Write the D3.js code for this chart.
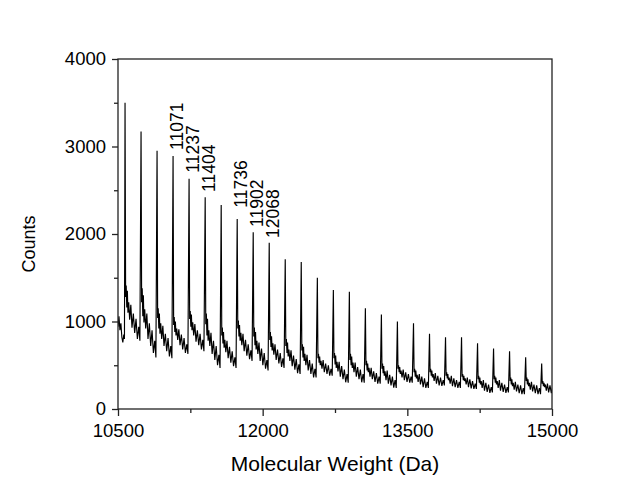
<!DOCTYPE html>
<html>
<head>
<meta charset="utf-8">
<script src="https://cdn.jsdelivr.net/npm/d3@7"></script>
<style>
  body { margin: 0; background: #fff; }
  svg { display: block; font-family: "Liberation Sans", Arial, sans-serif; }
</style>
</head>
<body>
<svg id="chart" width="628" height="481"></svg>
<script>
// axis ticks
const xTicks = [10500, 12000, 13500, 15000]
const xMinor = [11250, 12750, 14250]
const yTicks = [0, 1000, 2000, 3000, 4000]
const yMinor = [500, 1500, 2500, 3500]

// main peak series (Da), spacing ~166
const peakMass = [10573, 10739, 10905, 11071, 11237, 11404, 11570, 11736, 11902, 12068,
  12234, 12400, 12567, 12733, 12899, 13065, 13231, 13397, 13564, 13730,
  13896, 14062, 14228, 14394, 14560, 14727, 14893]

// offsets (Da) from each main peak where the trace is sampled
const periodOffsets = [0, 6, 12, 18, 24, 30, 38, 48, 60, 72, 86, 100, 114, 128, 142, 154]

// counts at those offsets, one row per peak (peak, adducts, noisy decaying baseline)
const periodCounts = [
  [3500, 1280, 1410, 1160, 1350, 1100, 1220, 1020, 1190, 930, 1090, 870, 1030, 800, 940, 780],
  [3170, 1220, 1380, 1060, 1300, 990, 1140, 920, 1090, 800, 980, 720, 900, 640, 780, 590],
  [2950, 1040, 1150, 920, 1090, 860, 980, 800, 950, 720, 860, 660, 810, 600, 720, 580],
  [2890, 960, 1050, 880, 1000, 840, 920, 790, 910, 730, 850, 680, 810, 640, 740, 630],
  [2630, 1030, 1120, 940, 1080, 900, 990, 840, 970, 770, 900, 730, 860, 680, 790, 660],
  [2420, 970, 1090, 840, 1030, 780, 900, 720, 870, 630, 780, 560, 720, 500, 620, 470],
  [2330, 840, 930, 750, 880, 700, 790, 650, 780, 580, 710, 530, 660, 490, 590, 470],
  [2170, 920, 1010, 830, 960, 780, 870, 730, 860, 660, 790, 610, 740, 570, 670, 550],
  [2020, 830, 930, 730, 880, 680, 780, 630, 760, 550, 690, 500, 640, 460, 560, 440],
  [1900, 790, 880, 710, 830, 670, 750, 620, 740, 560, 680, 520, 640, 480, 580, 470],
  [1710, 720, 800, 640, 760, 600, 680, 550, 670, 490, 610, 450, 570, 410, 510, 400],
  [1680, 670, 740, 590, 710, 550, 630, 500, 620, 440, 560, 400, 520, 360, 460, 360],
  [1500, 580, 630, 530, 600, 500, 550, 460, 560, 420, 520, 400, 500, 380, 460, 380],
  [1360, 580, 640, 510, 610, 470, 540, 430, 540, 370, 490, 340, 450, 305, 400, 300],
  [1340, 560, 630, 500, 600, 470, 530, 420, 530, 370, 480, 340, 450, 305, 400, 300],
  [1150, 500, 550, 440, 520, 420, 470, 370, 470, 340, 430, 310, 410, 290, 370, 290],
  [1080, 460, 520, 410, 490, 380, 430, 330, 440, 290, 390, 270, 370, 245, 330, 240],
  [1000, 460, 500, 420, 480, 400, 440, 360, 450, 330, 420, 310, 400, 300, 370, 300],
  [980, 420, 460, 370, 440, 350, 390, 310, 400, 280, 370, 250, 350, 240, 310, 240],
  [860, 420, 460, 380, 440, 360, 400, 320, 410, 290, 380, 270, 360, 265, 330, 270],
  [820, 380, 420, 350, 400, 330, 360, 290, 380, 260, 350, 250, 330, 240, 310, 240],
  [820, 370, 400, 330, 380, 320, 350, 280, 360, 250, 340, 235, 320, 230, 290, 230],
  [750, 340, 380, 300, 360, 280, 320, 240, 330, 210, 300, 195, 280, 185, 250, 190],
  [690, 340, 380, 300, 360, 280, 320, 240, 330, 210, 300, 195, 280, 185, 250, 190],
  [660, 320, 360, 280, 340, 260, 300, 220, 310, 200, 280, 180, 270, 170, 240, 170],
  [590, 320, 360, 280, 340, 260, 300, 220, 310, 200, 280, 180, 270, 170, 240, 170],
  [520, 290, 320, 260, 300, 250, 280, 210, 290, 190, 270, 180, 260, 170, 240, 190]
]

// trace before the first peak
const leadMass = [10500, 10510, 10520, 10530, 10540, 10550, 10560, 10567]
const leadCounts = [940, 1060, 900, 980, 820, 760, 850, 800]

// annotated peaks
const labelText = ['11071', '11237', '11404', '11736', '11902', '12068']
const labelMass = [11071, 11237, 11404, 11736, 11902, 12068]
const labelBaseCounts = [2960, 2700, 2480, 2300, 2080, 1955]

const svg = d3.select('#chart')
const plotL = 118, plotR = 552, plotT = 59, plotB = 409

const x = d3.scaleLinear().domain([10500, 15000]).range([plotL, plotR])
const y = d3.scaleLinear().domain([0, 4000]).range([plotB, plotT])

// build the trace
let trace = leadMass.map((m, i) => [m, leadCounts[i]])
peakMass.forEach((m, i) => {
  periodOffsets.forEach((o, j) => trace.push([m + o, periodCounts[i][j]]))
})

svg.append('clipPath').attr('id', 'plotclip')
  .append('rect')
  .attr('x', plotL).attr('y', plotT)
  .attr('width', plotR - plotL).attr('height', plotB - plotT)

svg.append('path')
  .datum(trace)
  .attr('clip-path', 'url(#plotclip)')
  .attr('fill', 'none')
  .attr('stroke', '#000')
  .attr('stroke-width', 1.15)
  .attr('stroke-linejoin', 'miter')
  .attr('d', d3.line().x(d => x(d[0])).y(d => y(d[1])))

// peak labels
svg.selectAll('.plabel')
  .data(labelText)
  .join('text')
  .attr('class', 'plabel')
  .attr('transform', (d, i) => `translate(${x(labelMass[i]) + 10},${y(labelBaseCounts[i])}) rotate(-90)`)
  .attr('font-size', 17.5)
  .attr('fill', '#000')
  .text(d => d)

// axes
svg.append('g')
  .attr('transform', `translate(0,${plotB})`)
  .call(d3.axisBottom(x).tickValues(xTicks).tickSize(7).tickPadding(8).tickFormat(d3.format('d')))
svg.append('g')
  .attr('transform', `translate(0,${plotB})`)
  .call(d3.axisBottom(x).tickValues(xMinor).tickSize(4).tickFormat(''))
svg.append('g')
  .attr('transform', `translate(${plotL},0)`)
  .call(d3.axisLeft(y).tickValues(yTicks).tickSize(6).tickPadding(6).tickFormat(d3.format('d')))
svg.append('g')
  .attr('transform', `translate(${plotL},0)`)
  .call(d3.axisLeft(y).tickValues(yMinor).tickSize(4).tickFormat(''))

svg.selectAll('.domain').remove()
svg.selectAll('.tick line').attr('stroke', '#222').attr('stroke-width', 1.3)
svg.selectAll('.tick text')
  .attr('font-size', 18.5)
  .attr('font-family', '"Liberation Sans", Arial, sans-serif')
  .attr('fill', '#000')

// frame
svg.append('rect')
  .attr('x', plotL).attr('y', plotT)
  .attr('width', plotR - plotL).attr('height', plotB - plotT)
  .attr('fill', 'none')
  .attr('stroke', '#222')
  .attr('stroke-width', 1.3)

// axis titles
svg.append('text')
  .attr('x', (plotL + plotR) / 2)
  .attr('y', 471)
  .attr('text-anchor', 'middle')
  .attr('font-size', 21)
  .attr('fill', '#000')
  .text('Molecular Weight (Da)')

svg.append('text')
  .attr('transform', `translate(35,244) rotate(-90)`)
  .attr('text-anchor', 'middle')
  .attr('font-size', 18)
  .attr('fill', '#000')
  .text('Counts')
</script>
</body>
</html>
